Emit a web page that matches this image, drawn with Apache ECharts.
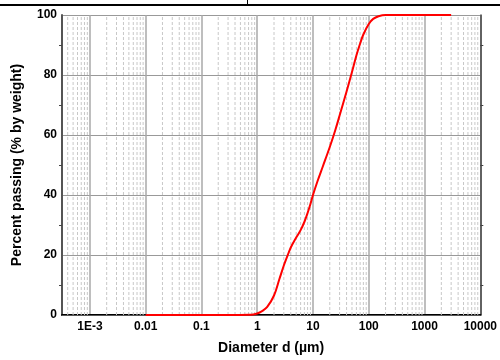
<!DOCTYPE html>
<html>
<head>
<meta charset="utf-8">
<script src="https://cdn.jsdelivr.net/npm/echarts@6/dist/echarts.min.js"></script>
<style>
	html, body { margin: 0; padding: 0; background: #fff; }
	#chart { width: 500px; height: 360px; }
</style>
</head>
<body>
<div id="chart"></div>
<script>
// particle size distribution
const diameters = [0.01, 0.1, 0.5, 0.7, 0.85, 1, 1.2, 1.5, 2, 2.5, 3, 3.5, 4, 5, 6, 7, 8, 9, 10, 12, 15, 20, 25, 30, 40, 50, 60, 70, 80, 100, 120, 150, 200, 250, 3000];
const passing = [0, 0, 0, 0.05, 0.2, 0.5, 1.2, 2.6, 6.5, 12, 16.5, 19.8, 22.5, 25.8, 28.3, 31, 34, 37, 40, 44.5, 49.5, 56, 61.5, 66.5, 74.5, 81, 86.5, 90.5, 93.5, 97, 98.7, 99.6, 100, 100, 100];
const yTicks = [0, 20, 40, 60, 80, 100];
const xMin = Math.pow(10, -3.5);
const xMax = 10000;

// minor grid at 2..9 of every decade, drawn as broken vertical segments
const minorGrid = [];
for (let k = -4; k <= 3; k++) {
	for (let m = 2; m <= 9; m++) {
		const v = m * Math.pow(10, k);
		if (v > xMin && v < xMax) {
			minorGrid.push([v, 0], [v, 100], [v, '-']);
		}
	}
}

const labelFont = { fontFamily: 'Liberation Sans, Arial', fontWeight: 'bold', fontSize: 12, color: '#000' };

const chart = echarts.init(document.getElementById('chart'));
chart.setOption({
	animation: false,
	grid: { left: 62, right: 18, top: 15, bottom: 45 },
	xAxis: [
		{
			type: 'log',
			logBase: 10,
			min: xMin,
			max: xMax,
			name: 'Diameter d (µm)',
			nameLocation: 'middle',
			nameGap: 26,
			nameTextStyle: { fontFamily: 'Liberation Sans, Arial', fontWeight: 'bold', fontSize: 14, color: '#000' },
			axisLine: { lineStyle: { color: '#000', width: 2 } },
			axisTick: { show: false },
			axisLabel: Object.assign({
				margin: 6,
				formatter: (v) => {
					const e = Math.log10(v);
					if (Math.abs(e - Math.round(e)) > 1e-6) return '';
					const p = Math.round(e);
					if (p === -3) return '1E-3';
					return p < 0 ? (1 / Math.pow(10, -p)).toFixed(-p) : String(Math.pow(10, p));
				}
			}, labelFont),
			splitLine: { show: true, lineStyle: { color: '#a8a8a8', width: 1.5 } }
		},
		{
			type: 'log',
			position: 'top',
			min: xMin,
			max: xMax,
			axisLine: { show: true, lineStyle: { color: '#555', width: 1 } },
			axisTick: { show: false },
			axisLabel: { show: false },
			splitLine: { show: false }
		}
	],
	yAxis: [
		{
			type: 'value',
			min: 0,
			max: 100,
			interval: 20,
			name: 'Percent passing (% by weight)',
			nameLocation: 'middle',
			nameGap: 38,
			nameTextStyle: { fontFamily: 'Liberation Sans, Arial', fontWeight: 'bold', fontSize: 14, color: '#000' },
			axisLine: { show: true, lineStyle: { color: '#555', width: 2 } },
			axisTick: { show: false },
			minorTick: { show: true, splitNumber: 2, length: 3, lineStyle: { color: '#444' } },
			axisLabel: Object.assign({ margin: 5, formatter: (v) => yTicks.includes(v) ? String(v) : '' }, labelFont),
			splitLine: { show: true, lineStyle: { color: '#999', width: 1 } }
		},
		{
			type: 'value',
			position: 'right',
			min: 0,
			max: 100,
			interval: 20,
			axisLine: { show: true, lineStyle: { color: '#444', width: 1.5 } },
			axisTick: { show: false },
			minorTick: { show: true, splitNumber: 2, length: 3, lineStyle: { color: '#444' } },
			axisLabel: { show: false },
			splitLine: { show: false }
		}
	],
	series: [
		{
			type: 'line',
			data: minorGrid,
			silent: true,
			showSymbol: false,
			connectNulls: false,
			lineStyle: { color: '#c8c8c8', width: 1, type: [3, 2] },
			z: 1
		},
		{
			type: 'line',
			data: diameters.map((d, i) => [d, passing[i]]),
			showSymbol: false,
			smooth: 0.35,
			lineStyle: { color: '#ff0000', width: 2 },
			itemStyle: { color: '#ff0000' },
			z: 5
		}
	],
	graphic: [
		{ type: 'line', shape: { x1: 0, y1: 5, x2: 500, y2: 5 }, style: { stroke: '#000', lineWidth: 2 } },
		{ type: 'line', shape: { x1: 247.5, y1: 0, x2: 247.5, y2: 5 }, style: { stroke: '#000', lineWidth: 1 } }
	]
});
</script>
</body>
</html>
